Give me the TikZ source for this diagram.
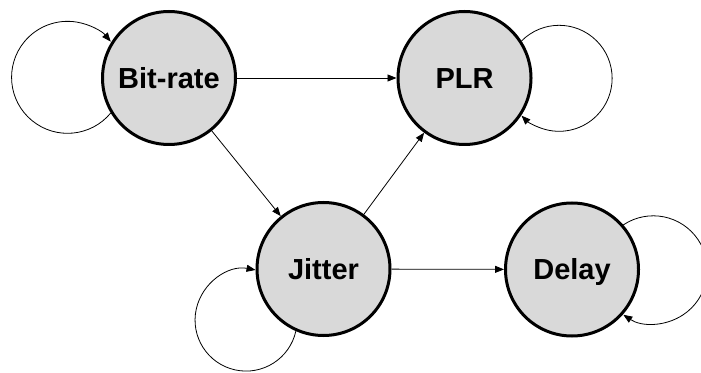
\documentclass[tikz,border=0pt]{standalone}
\usepackage{fontspec}
\setmainfont{Liberation Sans}
\usetikzlibrary{arrows.meta}
\begin{document}
\begin{tikzpicture}[x=1pt,y=1pt,
  state/.style={circle,draw=black,line width=3pt,fill={rgb,255:red,217;green,217;blue,217},
    minimum size=133pt,inner sep=0pt,text height=20.8pt,text depth=0pt,
    font=\fontsize{29}{34}\selectfont\bfseries},
  conn/.style={line width=0.8pt,-{Triangle[length=9pt,width=7pt]}}]
\useasboundingbox (0,0) rectangle (701,372);
\node[state] (b) at (169,294) {Bit-rate};
\node[state] (p) at (464.5,294) {PLR};
\node[state] (j) at (323.5,103) {Jitter};
\node[state] (d) at (572,102.5) {Delay};
\draw[conn] (b) -- (p);
\draw[conn] (b) -- (j);
\draw[conn] (j) -- (p);
\draw[conn] (j) -- (d);
% self loops
\draw[conn] (b.211.7) arc[start angle=-39.6,end angle=-320.4,radius=56];
\draw[conn] (p.33.3) arc[start angle=135.2,end angle=-135.2,radius=53];
\draw[conn] (j.-114) arc[start angle=-12.5,end angle=-280.7,radius=51];
\draw[conn] (d.41.3) arc[start angle=123.7,end angle=-123.7,radius=54];
\end{tikzpicture}
\end{document}
